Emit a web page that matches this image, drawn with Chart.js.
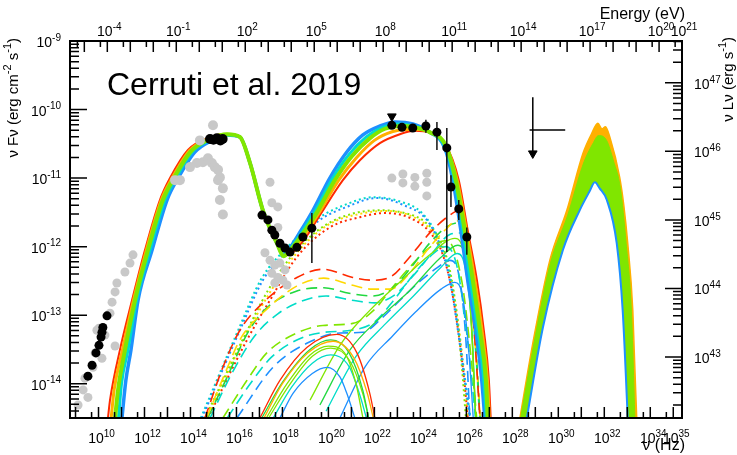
<!DOCTYPE html>
<html>
<head>
<meta charset="utf-8">
<script src="https://cdn.jsdelivr.net/npm/chart.js@4.4.1/dist/chart.umd.min.js"></script>
<style>html,body{margin:0;padding:0;background:#fff;overflow:hidden}</style>
</head>
<body>
<canvas id="sed" width="737" height="455"></canvas>
<script>
// all values are log10: [log nu (Hz), log nuFnu (erg cm-2 s-1)]
var X_MIN = 8.76, X_MAX = 35.38, Y_MIN = -14.5, Y_MAX = -9;
var LOG_H_EV = -14.383;   // log10 of h in eV s, for the energy axis
var LUM_OFFSET = 56.61;   // log10(4 pi d^2), for the nuLnu axis

var freqTicks = [10, 12, 14, 16, 18, 20, 22, 24, 26, 28, 30, 32, 34, 35];
var energyTicks = [-4, -1, 2, 5, 8, 11, 14, 17, 20, 21];
var fluxTicks = [-14, -13, -12, -11, -10, -9];
var lumTicks = [43, 44, 45, 46, 47];

// total model band (lepto-hadronic fits)
var totRed = [[10.41,-14.50],[10.50,-14.24],[10.93,-13.51],[11.46,-12.78],[12.02,-12.05],[12.67,-11.32],[13.11,-11.00],[13.89,-10.59],[14.72,-10.42],[15.59,-10.36],[16.15,-10.40],[16.59,-10.78],[17.15,-11.47],[17.76,-11.95],[18.06,-12.12],[18.33,-12.11],[18.98,-11.88],[19.63,-11.54],[20.63,-11.03],[21.37,-10.74],[22.24,-10.49],[23.11,-10.36],[23.76,-10.31],[24.41,-10.34],[25.06,-10.49],[25.67,-11.03],[26.06,-11.76],[26.46,-12.49],[26.76,-13.22],[26.98,-13.95],[27.06,-14.50]];
var totOrange = [[10.55,-14.50],[10.68,-14.09],[11.04,-13.51],[11.52,-12.78],[12.08,-12.05],[12.73,-11.32],[13.20,-11.00],[13.95,-10.60],[14.78,-10.42],[15.59,-10.36],[16.15,-10.40],[16.59,-10.78],[17.15,-11.47],[17.76,-11.95],[18.06,-12.13],[18.24,-12.11],[18.92,-11.85],[19.57,-11.52],[20.45,-11.03],[21.20,-10.71],[22.00,-10.45],[22.80,-10.32],[23.40,-10.29],[24.00,-10.29],[24.41,-10.33],[25.08,-10.51],[25.60,-11.03],[26.00,-11.76],[26.37,-12.49],[26.68,-13.22],[26.92,-13.95],[27.00,-14.50]];
var totGreen = [[10.72,-14.50],[10.85,-14.09],[11.15,-13.51],[11.59,-12.78],[12.15,-12.05],[12.80,-11.32],[13.28,-11.00],[14.02,-10.61],[14.85,-10.43],[15.59,-10.36],[16.15,-10.40],[16.59,-10.78],[17.15,-11.47],[17.76,-11.95],[18.06,-12.14],[18.15,-12.12],[18.85,-11.83],[19.50,-11.50],[20.28,-11.03],[21.02,-10.68],[21.80,-10.42],[22.46,-10.28],[23.11,-10.24],[23.76,-10.26],[24.41,-10.33],[25.11,-10.53],[25.54,-11.03],[25.93,-11.76],[26.28,-12.49],[26.59,-13.22],[26.85,-13.95],[26.93,-14.50]];
var totCyan = [[10.87,-14.50],[11.00,-14.00],[11.28,-13.51],[11.66,-12.78],[12.24,-12.05],[12.89,-11.32],[13.37,-11.00],[14.10,-10.61],[14.89,-10.44],[15.59,-10.37],[16.15,-10.40],[16.59,-10.78],[17.15,-11.47],[17.76,-11.95],[18.06,-12.13],[18.17,-12.10],[18.80,-11.81],[19.42,-11.48],[20.17,-11.01],[20.91,-10.65],[21.65,-10.40],[22.35,-10.26],[23.00,-10.21],[23.72,-10.24],[24.41,-10.33],[25.08,-10.55],[25.48,-11.03],[25.85,-11.76],[26.17,-12.49],[26.50,-13.22],[26.76,-13.95],[26.87,-14.50]];
var totBlue = [[11.02,-14.50],[11.19,-13.95],[11.41,-13.51],[11.72,-12.78],[12.33,-12.05],[12.98,-11.32],[13.46,-11.00],[14.19,-10.62],[14.93,-10.45],[15.59,-10.37],[16.15,-10.40],[16.59,-10.78],[17.15,-11.47],[17.76,-11.95],[18.06,-12.12],[18.19,-12.08],[18.76,-11.79],[19.33,-11.47],[20.06,-11.00],[20.80,-10.62],[21.50,-10.37],[22.24,-10.24],[22.89,-10.18],[23.67,-10.21],[24.41,-10.33],[25.06,-10.56],[25.41,-11.03],[25.76,-11.76],[26.06,-12.49],[26.41,-13.22],[26.67,-13.95],[26.80,-14.50]];

// dotted components
var dotBlue = [[14.50,-14.50],[16.15,-13.22],[17.15,-12.49],[18.33,-12.01],[19.63,-11.61],[20.80,-11.42],[22.11,-11.29],[23.24,-11.39],[24.28,-11.61],[24.85,-11.98],[25.28,-12.49],[25.63,-13.22],[25.93,-13.95],[26.15,-14.50]];
var dotCyan = [[14.45,-14.50],[16.10,-13.20],[17.10,-12.46],[18.30,-11.98],[19.60,-11.58],[20.80,-11.38],[21.90,-11.28],[23.00,-11.33],[24.10,-11.52],[24.80,-11.90],[25.30,-12.45],[25.65,-13.20],[25.95,-13.95],[26.18,-14.50]];
var dotGreen = [[14.63,-14.50],[16.37,-13.29],[17.37,-12.64],[18.54,-12.08],[19.85,-11.69],[21.15,-11.51],[22.24,-11.47],[23.33,-11.51],[24.20,-11.64],[24.85,-11.91],[25.28,-12.34],[25.59,-13.00],[25.80,-13.73],[25.98,-14.50]];
var dotYellow = [[14.70,-14.50],[16.40,-13.30],[17.40,-12.70],[18.60,-12.10],[20.00,-11.68],[21.40,-11.52],[22.50,-11.48],[23.50,-11.54],[24.40,-11.74],[25.00,-12.08],[25.40,-12.60],[25.70,-13.25],[25.95,-14.00],[26.08,-14.50]];
var dotRed = [[14.76,-14.50],[16.46,-13.36],[17.46,-12.78],[18.63,-12.15],[20.06,-11.72],[21.37,-11.57],[22.46,-11.51],[23.54,-11.58],[24.41,-11.79],[24.98,-12.12],[25.37,-12.64],[25.67,-13.29],[25.93,-14.02],[26.06,-14.50]];

// long-dashed components
var dashRed = [[14.63,-14.50],[15.41,-13.76],[16.15,-13.22],[17.15,-12.82],[18.63,-12.45],[19.76,-12.33],[21.06,-12.45],[21.93,-12.49],[22.76,-12.43],[23.54,-12.15],[24.41,-11.80],[25.28,-11.54],[25.72,-11.47],[26.06,-12.20],[26.37,-13.36],[26.59,-14.50]];
var dashOrange = [[14.70,-14.50],[15.50,-13.85],[16.20,-13.33],[17.20,-12.95],[18.60,-12.58],[19.80,-12.46],[21.00,-12.56],[21.90,-12.62],[22.70,-12.62],[23.50,-12.40],[24.30,-12.05],[25.10,-11.75],[25.60,-11.62],[26.00,-12.20],[26.35,-13.30],[26.60,-14.50]];
var dashGreen1 = [[14.75,-14.50],[15.60,-13.90],[16.50,-13.25],[17.30,-12.90],[18.60,-12.65],[19.80,-12.60],[20.90,-12.68],[21.90,-12.72],[22.80,-12.60],[23.60,-12.30],[24.40,-11.95],[25.20,-11.70],[25.70,-11.65],[26.10,-12.30],[26.40,-13.40],[26.60,-14.50]];
var dashCyan1 = [[14.85,-14.50],[15.80,-13.85],[16.80,-13.30],[17.80,-12.98],[18.80,-12.80],[19.90,-12.72],[21.00,-12.78],[22.00,-12.82],[22.90,-12.70],[23.70,-12.42],[24.50,-12.10],[25.30,-11.82],[25.80,-11.80],[26.10,-12.40],[26.40,-13.50],[26.58,-14.50]];
var dashGreen2 = [[15.41,-14.50],[16.46,-13.95],[17.32,-13.55],[18.63,-13.26],[19.76,-13.15],[21.06,-13.12],[22.00,-12.92],[22.67,-12.64],[23.54,-12.30],[24.41,-12.01],[25.15,-11.91],[25.80,-12.50],[26.20,-13.60],[26.45,-14.50]];
var dashCyan2 = [[15.60,-14.50],[16.60,-14.00],[17.50,-13.62],[18.70,-13.35],[19.80,-13.25],[21.00,-13.22],[22.00,-13.10],[22.80,-12.80],[23.60,-12.45],[24.40,-12.15],[25.10,-12.00],[25.60,-12.30],[26.10,-13.50],[26.40,-14.50]];
var dashBlue = [[16.02,-14.50],[17.59,-13.76],[19.06,-13.41],[20.50,-13.26],[21.50,-13.25],[22.30,-13.05],[23.24,-12.74],[24.00,-12.50],[24.72,-12.31],[25.28,-12.20],[25.72,-12.49],[25.98,-13.36],[26.15,-14.50]];

// thin solid bumps near 1e20 Hz
var bumpRed = [[17.02,-14.50],[17.89,-13.95],[19.06,-13.47],[20.37,-13.28],[21.24,-13.55],[21.80,-14.14],[22.02,-14.50]];
var bumpOrange = [[17.20,-14.50],[18.00,-14.00],[19.10,-13.55],[20.20,-13.38],[21.10,-13.62],[21.70,-14.15],[21.95,-14.50]];
var bumpGreenA = [[17.10,-14.50],[18.00,-13.98],[19.20,-13.50],[20.10,-13.36],[20.90,-13.55],[21.50,-14.10],[21.75,-14.50]];
var bumpLime = [[17.30,-14.50],[18.20,-14.00],[19.20,-13.58],[20.00,-13.45],[20.70,-13.55],[21.20,-14.00],[21.50,-14.50]];
var bumpGreenB = [[17.40,-14.50],[18.30,-14.02],[19.30,-13.60],[20.10,-13.48],[20.90,-13.65],[21.50,-14.15],[21.75,-14.50]];
var bumpCyan = [[17.60,-14.50],[18.40,-14.05],[19.30,-13.70],[20.10,-13.58],[20.90,-13.75],[21.40,-14.20],[21.65,-14.50]];
var bumpBlue = [[17.89,-14.50],[18.46,-14.14],[19.30,-13.85],[19.93,-13.76],[20.50,-13.90],[20.80,-14.14],[21.15,-14.50]];

// thin solid rising components
var riseGreenA = [[19.20,-14.24],[20.50,-13.44],[21.80,-12.93],[23.10,-12.52],[24.41,-12.12],[25.50,-11.88],[25.80,-11.98],[26.15,-12.78],[26.41,-14.50]];
var riseGreenB = [[19.63,-14.31],[20.93,-13.51],[22.24,-13.04],[23.54,-12.64],[24.85,-12.17],[25.63,-11.98],[25.98,-12.20],[26.24,-13.22],[26.41,-14.50]];
var riseCyan = [[19.90,-14.40],[21.20,-13.60],[22.50,-13.12],[23.70,-12.72],[24.90,-12.30],[25.60,-12.10],[26.00,-12.40],[26.25,-13.30],[26.40,-14.50]];
var riseBlue = [[20.50,-14.50],[21.60,-13.75],[22.80,-13.30],[23.80,-12.95],[24.90,-12.62],[25.50,-12.52],[25.85,-12.75],[26.10,-13.50],[26.30,-14.50]];

// neutrino band envelopes
var nuUpper = [[28.33,-14.50],[28.89,-13.41],[29.63,-12.20],[30.37,-11.47],[31.07,-10.64],[31.45,-10.35],[31.72,-10.20],[31.90,-10.28],[32.05,-10.25],[32.24,-10.40],[32.67,-10.99],[32.85,-11.40],[33.02,-11.95],[33.24,-12.93],[33.30,-13.50],[33.41,-14.50]];
var nuGreen = [[28.36,-14.50],[28.92,-13.45],[29.65,-12.25],[30.40,-11.55],[31.10,-10.78],[31.50,-10.50],[31.75,-10.38],[32.10,-10.45],[32.40,-10.75],[32.70,-11.15],[32.95,-11.95],[33.18,-12.95],[33.33,-14.50]];
var nuLower = [[28.63,-14.50],[29.33,-13.18],[30.20,-12.05],[30.93,-11.47],[31.35,-11.20],[31.59,-11.06],[31.80,-11.15],[32.11,-11.32],[32.54,-11.95],[32.80,-12.93],[33.02,-14.50]];

// data (black) and archival (grey) points
var radioBlack = [[9.54,-13.89],[9.72,-13.73],[9.89,-13.55],[10.02,-13.44],[10.11,-13.32],[10.15,-13.25],[10.19,-13.18],[10.37,-13.01]];
var optBlack = [[14.85,-10.43],[15.00,-10.44],[15.15,-10.42],[15.30,-10.45],[15.40,-10.43]];
var xrayBlack = [[17.11,-11.54],[17.37,-11.61],[17.54,-11.76],[17.67,-11.83],[17.89,-11.95],[18.11,-12.02],[18.33,-12.08],[18.63,-12.01],[18.89,-11.86],[19.28,-11.73]];
var gammaBlack = [[22.76,-10.23],[23.20,-10.26],[23.67,-10.27],[24.24,-10.24],[24.72,-10.33],[25.15,-10.56],[25.33,-11.13],[25.67,-11.45],[26.02,-11.86]];
var blackErr = [[19.28,-11.51,-12.24],[24.24,-10.15,-10.34],[24.72,-10.18,-10.59],[25.15,-10.27,-12.08],[25.33,-10.96,-11.42],[25.67,-11.32,-11.61],[26.02,-11.72,-12.12]];
var gammaUL = [[22.76,-10.10]];
var greyRadio = [[9.11,-14.31],[9.33,-14.09],[9.54,-14.20],[9.41,-13.92],[9.76,-13.76],[9.85,-13.55],[9.93,-13.22],[10.02,-13.19],[10.15,-13.63],[10.28,-13.29],[10.50,-12.97],[10.59,-12.81],[10.72,-12.66],[10.80,-12.53],[10.72,-13.45],[11.15,-12.37],[11.37,-12.24],[11.50,-12.12]];
var greyOpt = [[13.33,-11.03],[13.54,-11.03],[13.98,-10.84],[14.28,-10.78],[14.41,-10.45],[14.98,-10.23],[14.54,-10.77],[14.76,-10.71],[14.93,-10.78],[15.06,-10.84],[15.20,-10.88],[15.28,-10.99],[15.20,-11.03],[15.41,-11.15],[15.28,-11.32],[15.41,-11.53]];
var greyXray = [[17.46,-11.06],[17.54,-11.36],[17.80,-11.42],[17.80,-11.72],[17.24,-12.09],[17.46,-12.20],[17.67,-12.27],[17.89,-12.24],[18.11,-12.34],[17.54,-12.39],[17.80,-12.45],[18.02,-12.49],[17.67,-12.53],[18.20,-12.56]];
var greyVhe = [[22.76,-11.00],[23.24,-10.94],[23.24,-11.07],[23.76,-10.99],[23.76,-11.12],[24.28,-10.93],[24.28,-11.06],[24.28,-11.26]];

// IceCube neutrino upper limit
var nuPoint = [[28.89,-9.82,-10.62]];
var nuBar = [[28.75,-10.30],[30.30,-10.30]];
var nuArrow = [[28.89,-10.64]];

var RED = '#ff2a00', ORANGE = '#ffb000', YELLOW = '#ffd800', LIME = '#80e600', GREEN = '#22d840', CYAN = '#00dcc8', BLUE = '#1e90ff';
var FONT = '"Liberation Sans", Arial, sans-serif';

function pts(arr) {
    return arr.map(function(p){ return {x: p[0], y: p[1]}; });
}
function errSegs(arr) {
    var out = [];
    arr.forEach(function(e){
        out.push({x: e[0], y: e[1]}, {x: e[0], y: e[2]}, {x: e[0], y: null});
    });
    return out;
}
function curve(arr, color, width, dash) {
    return {data: pts(arr), showLine: true, pointRadius: 0, borderColor: color,
            borderWidth: width, borderDash: dash || [], cubicInterpolationMode: 'monotone', fill: false};
}
function markers(arr, color, r) {
    return {data: pts(arr), showLine: false, pointRadius: r, pointBackgroundColor: color,
            pointBorderColor: color, pointBorderWidth: 0};
}

var DOT = [2, 3], DASH = [11, 6];

var datasets = [
    {data: errSegs(nuPoint), showLine: true, pointRadius: 0, borderColor: '#000', borderWidth: 1.5, tension: 0},
    {data: pts(nuBar), showLine: true, pointRadius: 0, borderColor: '#000', borderWidth: 1.5, tension: 0},
    {data: pts(nuArrow), showLine: false, pointStyle: 'triangle', rotation: 180, pointRadius: 5, pointBackgroundColor: '#000', pointBorderColor: '#000'},
    {data: pts(gammaUL), showLine: false, pointStyle: 'triangle', rotation: 180, pointRadius: 5, pointBackgroundColor: '#000', pointBorderColor: '#000'},
    markers(radioBlack, '#000', 4.5),
    markers(optBlack, '#000', 5),
    markers(xrayBlack, '#000', 4.5),
    markers(gammaBlack, '#000', 4.5),
    {data: errSegs(blackErr), showLine: true, pointRadius: 0, borderColor: '#111', borderWidth: 1.5, tension: 0},
    markers(greyRadio, '#c8c8c8', 4.5),
    markers(greyOpt, '#c8c8c8', 5),
    markers(greyXray, '#c8c8c8', 4.5),
    markers(greyVhe, '#c8c8c8', 4.5),
    curve(totGreen, LIME, 4),
    curve(totCyan, CYAN, 3),
    curve(totOrange, ORANGE, 3),
    curve(totBlue, BLUE, 3.5),
    curve(totRed, RED, 2),
    curve(bumpRed, RED, 1.3), curve(bumpOrange, ORANGE, 1.3), curve(bumpGreenA, GREEN, 1.3),
    curve(bumpLime, LIME, 1.3), curve(bumpGreenB, LIME, 1.3), curve(bumpCyan, CYAN, 1.3), curve(bumpBlue, BLUE, 1.3),
    curve(riseGreenA, LIME, 1.3), curve(riseGreenB, GREEN, 1.3), curve(riseCyan, CYAN, 1.3), curve(riseBlue, BLUE, 1.3),
    curve(dashRed, RED, 1.6, DASH), curve(dashOrange, YELLOW, 1.6, DASH), curve(dashGreen1, GREEN, 1.6, DASH),
    curve(dashCyan1, CYAN, 1.6, DASH), curve(dashGreen2, LIME, 1.6, DASH), curve(dashCyan2, CYAN, 1.6, DASH),
    curve(dashBlue, BLUE, 1.6, DASH),
    curve(dotBlue, BLUE, 2, DOT), curve(dotCyan, CYAN, 2, DOT), curve(dotGreen, LIME, 2, DOT),
    curve(dotYellow, YELLOW, 2, DOT), curve(dotRed, RED, 2, DOT),
    // neutrino band: inner envelope blanks out the inside of the band
    {data: pts(nuLower), showLine: true, pointRadius: 0, borderColor: BLUE, borderWidth: 2, cubicInterpolationMode: 'monotone', fill: 'start', backgroundColor: '#ffffff'},
    {data: pts(nuGreen), showLine: true, pointRadius: 0, borderColor: LIME, borderWidth: 1, cubicInterpolationMode: 'monotone', fill: 'start', backgroundColor: LIME},
    {data: pts(nuUpper), showLine: true, pointRadius: 0, borderColor: ORANGE, borderWidth: 1.5, cubicInterpolationMode: 'monotone', fill: 'start', backgroundColor: ORANGE}
];

function richText(ctx, parts, size) {
    // parts: [text, isSuperscript]; draws from current origin, returns width
    var x = 0;
    parts.forEach(function(p){
        ctx.font = (p[1] ? Math.round(size * 0.7) : size) + 'px ' + FONT;
        ctx.fillText(p[0], x, p[1] ? -size * 0.45 : 0);
        x += ctx.measureText(p[0]).width;
    });
    return x;
}
function richWidth(ctx, parts, size) {
    var w = 0;
    parts.forEach(function(p){
        ctx.font = (p[1] ? Math.round(size * 0.7) : size) + 'px ' + FONT;
        w += ctx.measureText(p[0]).width;
    });
    return w;
}
function powLabel(ctx, exp, x, y, align) {
    var parts = [['10', false], [String(exp), true]];
    var w = richWidth(ctx, parts, 14);
    var left = align === 'center' ? x - w / 2 : (align === 'right' ? x - w : x);
    ctx.save();
    ctx.translate(left, y);
    richText(ctx, parts, 14);
    ctx.restore();
}

var rootAxes = {
    id: 'rootAxes',
    afterDraw: function(chart) {
        var ctx = chart.ctx, a = chart.chartArea;
        var sx = chart.scales.x, sx2 = chart.scales.x2, sy = chart.scales.y, sy2 = chart.scales.y2;
        var L5 = Math.log10(5);
        ctx.save();
        ctx.strokeStyle = '#000';
        ctx.fillStyle = '#000';
        ctx.lineWidth = 1.5;
        ctx.beginPath();
        var n, p, k;
        // bottom and top: decade ticks plus 5x ticks
        for (n = 8; n <= 36; n++) {
            [[n, 11], [n + L5, 6]].forEach(function(t){
                var px = sx.getPixelForValue(t[0]);
                if (px > a.left + 1 && px < a.right - 1) { ctx.moveTo(px, a.bottom); ctx.lineTo(px, a.bottom - t[1]); }
            });
        }
        for (n = -6; n <= 21; n++) {
            [[n, 11], [n + L5, 6]].forEach(function(t){
                var px = sx2.getPixelForValue(t[0]);
                if (px > a.left + 1 && px < a.right + 1) { ctx.moveTo(px, a.top); ctx.lineTo(px, a.top + t[1]); }
            });
        }
        // left and right: decades plus 2..9 minors
        for (n = -15; n <= -9; n++) {
            for (k = 1; k <= 9; k++) {
                p = sy.getPixelForValue(n + Math.log10(k));
                if (p < a.top - 1 || p > a.bottom - 1) continue;
                ctx.moveTo(a.left, p); ctx.lineTo(a.left + (k === 1 ? 17 : 9), p);
            }
        }
        for (n = 42; n <= 47; n++) {
            for (k = 1; k <= 9; k++) {
                p = sy2.getPixelForValue(n + Math.log10(k));
                if (p < a.top - 1 || p > a.bottom - 1) continue;
                ctx.moveTo(a.right, p); ctx.lineTo(a.right - (k === 1 ? 17 : 9), p);
            }
        }
        ctx.stroke();
        ctx.lineWidth = 2;
        ctx.strokeRect(a.left, a.top, a.right - a.left, a.bottom - a.top);

        // tick labels
        ctx.textBaseline = 'alphabetic';
        ctx.textAlign = 'left';
        freqTicks.forEach(function(e){ powLabel(ctx, e, sx.getPixelForValue(e) + 3, 443, 'center'); });
        energyTicks.forEach(function(e){ powLabel(ctx, e, sx2.getPixelForValue(e) + 2, 36, 'center'); });
        fluxTicks.forEach(function(e){ powLabel(ctx, e, 61, sy.getPixelForValue(e) + 6, 'right'); });
        lumTicks.forEach(function(e){ powLabel(ctx, e, 694, sy2.getPixelForValue(e) + 6, 'left'); });

        // titles
        ctx.font = '32px ' + FONT;
        ctx.fillText('Cerruti et al. 2019', 107, 95);
        ctx.font = '16px ' + FONT;
        ctx.textAlign = 'right';
        ctx.fillText('Energy (eV)', 685, 19);
        ctx.fillText('\u03bd (Hz)', 685, 450);
        ctx.textAlign = 'left';

        var leftTitle = [['\u03bd F\u03bd (erg cm', false], ['-2', true], [' s', false], ['-1', true], [')', false]];
        ctx.save();
        ctx.translate(18, 38);
        ctx.rotate(-Math.PI / 2);
        ctx.translate(-richWidth(ctx, leftTitle, 15), 0);
        richText(ctx, leftTitle, 15);
        ctx.restore();

        var rightTitle = [['\u03bd L\u03bd (erg s', false], ['-1', true], [')', false]];
        ctx.save();
        ctx.translate(733, 37);
        ctx.rotate(-Math.PI / 2);
        ctx.translate(-richWidth(ctx, rightTitle, 15), 0);
        richText(ctx, rightTitle, 15);
        ctx.restore();
        ctx.restore();
    }
};

function hiddenAxis(pos, min, max, fit) {
    return {type: 'linear', position: pos, min: min, max: max,
            grid: {display: false}, border: {display: false}, ticks: {display: false},
            afterFit: fit};
}

new Chart(document.getElementById('sed').getContext('2d'), {
    type: 'scatter',
    data: {datasets: datasets},
    options: {
        responsive: false,
        animation: false,
        devicePixelRatio: 1,
        layout: {padding: 0},
        plugins: {legend: {display: false}, tooltip: {enabled: false}},
        scales: {
            x: hiddenAxis('bottom', X_MIN, X_MAX, function(s){ s.height = 37; }),
            x2: hiddenAxis('top', X_MIN + LOG_H_EV, X_MAX + LOG_H_EV, function(s){ s.height = 41; }),
            y: hiddenAxis('left', Y_MIN, Y_MAX, function(s){ s.width = 70; }),
            y2: hiddenAxis('right', Y_MIN + LUM_OFFSET, Y_MAX + LUM_OFFSET, function(s){ s.width = 55; })
        }
    },
    plugins: [rootAxes]
});
</script>
</body>
</html>
